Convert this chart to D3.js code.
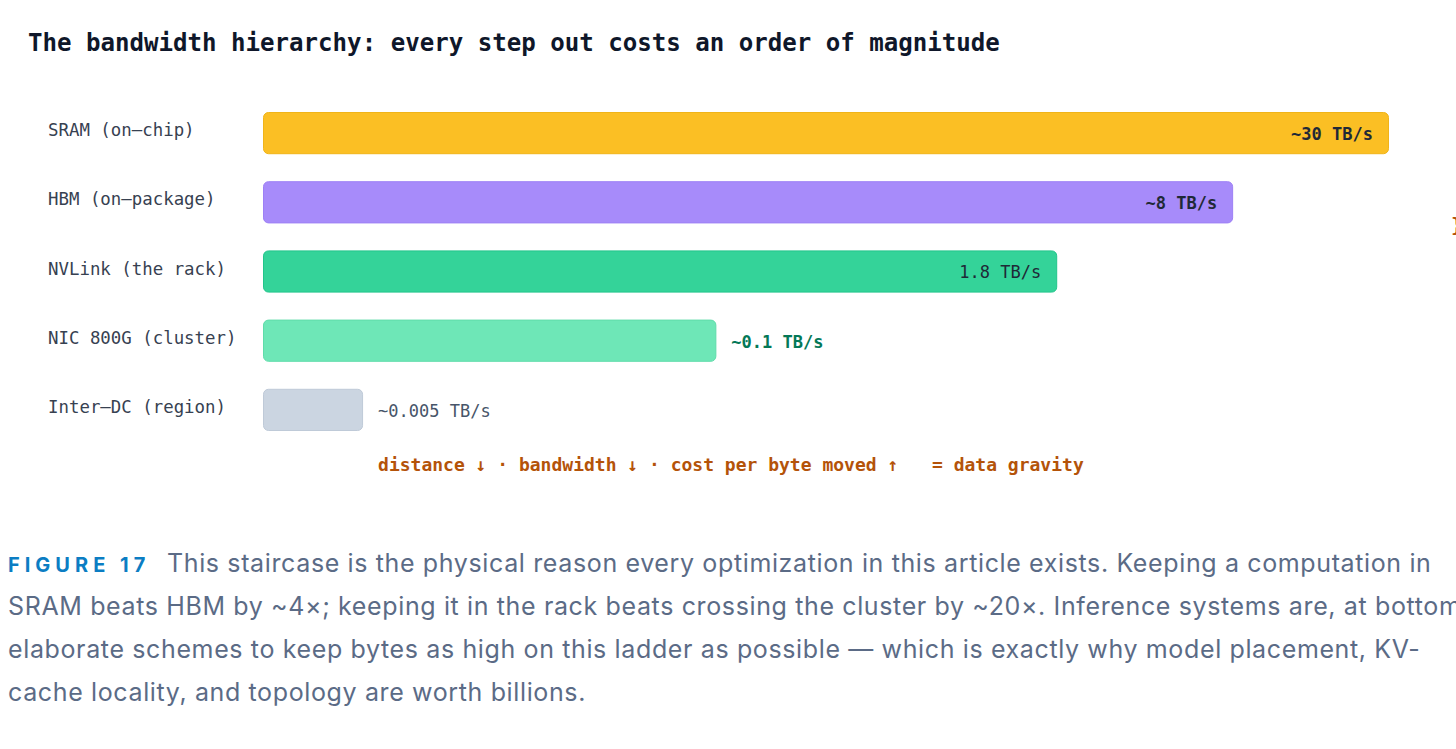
<!DOCTYPE html>
<html>
<head>
<meta charset="utf-8">
<script src="https://cdn.jsdelivr.net/npm/d3@7"></script>
<style>
  body { margin: 0; background: #fff; overflow: hidden; }
  svg { display: block; }
</style>
</head>
<body>
<div id="chart"></div>
<script>
// tiers of the memory / network ladder
let tiers = ["SRAM (on\u2013chip)", "HBM (on\u2013package)", "NVLink (the rack)", "NIC 800G (cluster)", "Inter\u2013DC (region)"];
let bandwidth = [30, 8, 1.8, 0.1, 0.005]; // TB/s
let valueLabels = ["~30 TB/s", "~8 TB/s", "1.8 TB/s", "~0.1 TB/s", "~0.005 TB/s"];

let title = "The bandwidth hierarchy: every step out costs an order of magnitude";
let footnote = "distance \u2193 \u00b7 bandwidth \u2193 \u00b7 cost per byte moved \u2191";
let footnoteEnd = "= data gravity";

let captionTag = "FIGURE 17";
let captionLines = [
  "This staircase is the physical reason every optimization in this article exists. Keeping a computation in",
  "SRAM beats HBM by ~4\u00d7; keeping it in the rack beats crossing the cluster by ~20\u00d7. Inference systems are, at bottom,",
  "elaborate schemes to keep bytes as high on this ladder as possible \u2014 which is exactly why model placement, KV-",
  "cache locality, and topology are worth billions."
];

// styling
let fills = ["#fbbf24", "#a78bfa", "#34d399", "#6ee7b7", "#cbd5e1"];
let strokes = ["#f0b419", "#9d80f5", "#22c58b", "#5fdcaa", "#bfcad8"];
let mono = "'DejaVu Sans Mono', monospace";
let sans = "Inter, 'Noto Sans', sans-serif";

let width = 1456, height = 749;

let svg = d3.select("#chart")
  .append("svg")
  .attr("width", width)
  .attr("height", height);

// log scale: each decade costs the same width
let x = d3.scaleLog()
  .domain([0.00214, 30])
  .range([263, 1389]);

let y = d3.scaleBand()
  .domain(tiers)
  .range([112, 431])
  .paddingInner(0.39);

let rows = tiers.map(function(t, i) {
  return { tier: t, value: bandwidth[i], label: valueLabels[i], i: i };
});

svg.append("text")
  .attr("x", 28)
  .attr("y", 51)
  .attr("font-family", mono)
  .attr("font-weight", "bold")
  .attr("font-size", 24.1)
  .attr("fill", "#0f172a")
  .text(title);

// tier names on the left
svg.selectAll(".tier")
  .data(rows)
  .enter()
  .append("text")
  .attr("class", "tier")
  .attr("x", 48)
  .attr("y", function(d) { return y(d.tier) + y.bandwidth() / 2 - 3; })
  .attr("dy", "0.35em")
  .attr("font-family", mono)
  .attr("font-size", 17.4)
  .attr("fill", "#374151")
  .text(function(d) { return d.tier; });

// bars
svg.selectAll(".bar")
  .data(rows)
  .enter()
  .append("rect")
  .attr("class", "bar")
  .attr("x", x(x.domain()[0]) + 0.5)
  .attr("y", function(d) { return y(d.tier) + 0.5; })
  .attr("width", function(d) { return x(d.value) - x(x.domain()[0]) - 1; })
  .attr("height", y.bandwidth() - 1)
  .attr("rx", 5)
  .attr("fill", function(d) { return fills[d.i]; })
  .attr("stroke", function(d) { return strokes[d.i]; })
  .attr("stroke-width", 1);

// value labels: inside for the wide bars, outside for the narrow ones
let inside = function(d) { return d.value >= 1; };
let labelColor = ["#1f2937", "#1f2937", "#1f2937", "#047857", "#475569"];
let labelWeight = ["bold", "bold", "normal", "bold", "normal"];

svg.selectAll(".val")
  .data(rows)
  .enter()
  .append("text")
  .attr("class", "val")
  .attr("x", function(d) { return inside(d) ? x(d.value) - 16 : x(d.value) + 15; })
  .attr("y", function(d) { return y(d.tier) + y.bandwidth() / 2 + 1; })
  .attr("dy", "0.35em")
  .attr("text-anchor", function(d) { return inside(d) ? "end" : "start"; })
  .attr("font-family", mono)
  .attr("font-size", 17)
  .attr("font-weight", function(d) { return labelWeight[d.i]; })
  .attr("fill", function(d) { return labelColor[d.i]; })
  .text(function(d) { return d.label; });

// footnote under the staircase
let note = svg.append("text")
  .attr("x", x(bandwidth[4]) + 15)
  .attr("y", 471)
  .attr("font-family", mono)
  .attr("font-size", 18)
  .attr("font-weight", "bold")
  .attr("fill", "#b45309");
note.append("tspan").text(footnote);
note.append("tspan").attr("x", 932).text(footnoteEnd);

// clipped mark at right edge (cut off in the original too)
svg.append("text")
  .attr("x", 1451)
  .attr("y", 232)
  .attr("font-family", mono)
  .attr("font-size", 20)
  .attr("font-weight", "bold")
  .attr("fill", "#b45309")
  .text("}");

// caption
let cap = svg.append("g").attr("font-family", sans);

cap.append("text")
  .attr("x", 8)
  .attr("y", 572)
  .attr("font-size", 20)
  .attr("font-weight", "bold")
  .attr("letter-spacing", 5)
  .attr("fill", "#0b7dc3")
  .text(captionTag);

cap.selectAll(".cap")
  .data(captionLines)
  .enter()
  .append("text")
  .attr("class", "cap")
  .attr("x", function(d, i) { return i === 0 ? 167 : 8; })
  .attr("y", function(d, i) { return 572 + i * 43; })
  .attr("font-size", 25)
  .attr("letter-spacing", 0.63)
  .attr("fill", "#5b6b86")
  .text(function(d) { return d; });
</script>
</body>
</html>
